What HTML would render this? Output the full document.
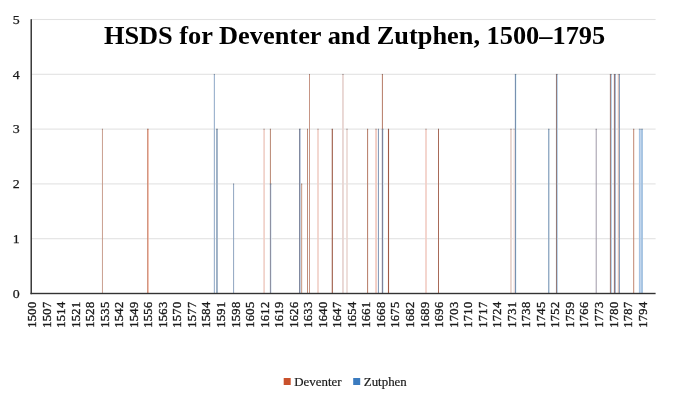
<!DOCTYPE html>
<html lang="en"><head><meta charset="utf-8"><title>HSDS for Deventer and Zutphen, 1500–1795</title>
<style>html,body{margin:0;padding:0;background:#fff;}svg{display:block;}text{font-family:"Liberation Serif","DejaVu Serif",serif;fill:#1a1a1a;}</style></head><body>
<svg width="676" height="403" viewBox="0 0 676 403">
<rect width="676" height="403" fill="#fff"/>
<g fill="#e2e2e2">
<rect x="31" y="238.15" width="624.6" height="1.1"/>
<rect x="31" y="183.35" width="624.6" height="1.1"/>
<rect x="31" y="128.55" width="624.6" height="1.1"/>
<rect x="31" y="73.75" width="624.6" height="1.1"/>
<rect x="31" y="18.95" width="624.6" height="1.1"/>
</g>
<g>
<rect x="101.95" y="129.10" width="0.9" height="164.40" fill="#c49583"/>
<rect x="101.95" y="128.75" width="0.9" height="0.95" fill="#957a70"/>
<rect x="147.10" y="129.10" width="0.8" height="164.40" fill="#c07a60"/>
<rect x="147.10" y="128.75" width="0.8" height="0.95" fill="#936a5c"/>
<rect x="147.90" y="129.10" width="0.8" height="164.40" fill="#f0a890"/>
<rect x="147.90" y="128.75" width="0.8" height="0.95" fill="#ae8578"/>
<rect x="213.80" y="74.30" width="1.2" height="219.20" fill="#9fb5cf"/>
<rect x="213.80" y="73.95" width="1.2" height="0.95" fill="#7f8c9d"/>
<rect x="216.00" y="129.10" width="1.9" height="164.40" fill="#9db0c5"/>
<rect x="216.00" y="128.75" width="1.9" height="0.95" fill="#7e8997"/>
<rect x="233.10" y="183.90" width="1.0" height="109.60" fill="#8fa5c0"/>
<rect x="233.10" y="183.55" width="1.0" height="0.95" fill="#768394"/>
<rect x="263.30" y="129.10" width="1.6" height="164.40" fill="#f0cfc6"/>
<rect x="263.30" y="128.75" width="1.6" height="0.95" fill="#ae9b97"/>
<rect x="269.90" y="129.10" width="1.0" height="54.80" fill="#b88570"/>
<rect x="269.90" y="128.75" width="1.0" height="0.95" fill="#8e7065"/>
<rect x="269.90" y="183.90" width="1.0" height="109.60" fill="#777a90"/>
<rect x="269.90" y="183.55" width="1.0" height="0.95" fill="#686a78"/>
<rect x="270.90" y="183.90" width="0.8" height="109.60" fill="#dfe9f2"/>
<rect x="270.90" y="183.55" width="0.8" height="0.95" fill="#a5aab1"/>
<rect x="299.15" y="129.10" width="1.1" height="164.40" fill="#6b7590"/>
<rect x="299.15" y="128.75" width="1.1" height="0.95" fill="#616778"/>
<rect x="300.10" y="129.10" width="0.6" height="164.40" fill="#b5c6dd"/>
<rect x="300.10" y="128.75" width="0.6" height="0.95" fill="#8c96a5"/>
<rect x="301.25" y="183.90" width="0.9" height="109.60" fill="#c08a70"/>
<rect x="301.25" y="183.55" width="0.9" height="0.95" fill="#937365"/>
<rect x="307.10" y="129.10" width="0.9" height="164.40" fill="#b8826c"/>
<rect x="307.10" y="128.75" width="0.9" height="0.95" fill="#8e6f63"/>
<rect x="309.00" y="74.30" width="0.9" height="219.20" fill="#c08a78"/>
<rect x="309.00" y="73.95" width="0.9" height="0.95" fill="#93736a"/>
<rect x="317.20" y="129.10" width="1.6" height="164.40" fill="#f0cfc6"/>
<rect x="317.20" y="128.75" width="1.6" height="0.95" fill="#ae9b97"/>
<rect x="331.75" y="129.10" width="1.1" height="164.40" fill="#9c5a44"/>
<rect x="331.75" y="128.75" width="1.1" height="0.95" fill="#7e574c"/>
<rect x="342.05" y="74.30" width="1.8" height="219.20" fill="#e8d5d2"/>
<rect x="342.05" y="73.95" width="1.8" height="0.95" fill="#aa9f9e"/>
<rect x="346.15" y="129.10" width="1.7" height="164.40" fill="#ecdad5"/>
<rect x="346.15" y="128.75" width="1.7" height="0.95" fill="#aca2a0"/>
<rect x="367.10" y="129.10" width="1.0" height="164.40" fill="#b57a65"/>
<rect x="367.10" y="128.75" width="1.0" height="0.95" fill="#8c6a5f"/>
<rect x="375.20" y="129.10" width="1.7" height="164.40" fill="#f2c9bf"/>
<rect x="375.20" y="128.75" width="1.7" height="0.95" fill="#b09893"/>
<rect x="377.90" y="129.10" width="1.0" height="164.40" fill="#7d95b5"/>
<rect x="377.90" y="128.75" width="1.0" height="0.95" fill="#6c7a8d"/>
<rect x="381.90" y="74.30" width="1.0" height="54.80" fill="#b57a65"/>
<rect x="381.90" y="73.95" width="1.0" height="0.95" fill="#8c6a5f"/>
<rect x="381.85" y="129.10" width="1.1" height="164.40" fill="#6a6882"/>
<rect x="381.85" y="128.75" width="1.1" height="0.95" fill="#616070"/>
<rect x="382.85" y="129.10" width="1.0" height="164.40" fill="#d8ecf5"/>
<rect x="382.85" y="128.75" width="1.0" height="0.95" fill="#a0acb3"/>
<rect x="387.95" y="129.10" width="1.1" height="164.40" fill="#a05a45"/>
<rect x="387.95" y="128.75" width="1.1" height="0.95" fill="#80574c"/>
<rect x="425.20" y="129.10" width="1.6" height="164.40" fill="#f2cdc4"/>
<rect x="425.20" y="128.75" width="1.6" height="0.95" fill="#b09a96"/>
<rect x="438.00" y="129.10" width="1.0" height="164.40" fill="#a86a58"/>
<rect x="438.00" y="128.75" width="1.0" height="0.95" fill="#856158"/>
<rect x="510.00" y="129.10" width="1.9" height="164.40" fill="#e8d6d0"/>
<rect x="510.00" y="128.75" width="1.9" height="0.95" fill="#aa9f9d"/>
<rect x="513.45" y="129.10" width="1.3" height="164.40" fill="#fbe6e0"/>
<rect x="513.45" y="128.75" width="1.3" height="0.95" fill="#b5a9a6"/>
<rect x="514.88" y="74.30" width="1.15" height="219.20" fill="#6c86a8"/>
<rect x="514.88" y="73.95" width="1.15" height="0.95" fill="#627186"/>
<rect x="515.90" y="74.30" width="0.5" height="219.20" fill="#d5f0f8"/>
<rect x="515.90" y="73.95" width="0.5" height="0.95" fill="#9faeb4"/>
<rect x="548.10" y="129.10" width="1.3" height="164.40" fill="#8aa5c0"/>
<rect x="548.10" y="128.75" width="1.3" height="0.95" fill="#738394"/>
<rect x="555.95" y="74.30" width="1.1" height="219.20" fill="#917573"/>
<rect x="555.95" y="73.95" width="1.1" height="0.95" fill="#776767"/>
<rect x="556.95" y="74.30" width="0.9" height="219.20" fill="#b5cfe8"/>
<rect x="556.95" y="73.95" width="0.9" height="0.95" fill="#8c9bab"/>
<rect x="595.70" y="129.10" width="1.0" height="164.40" fill="#a09aa8"/>
<rect x="595.70" y="128.75" width="1.0" height="0.95" fill="#807d86"/>
<rect x="609.90" y="74.30" width="1.0" height="219.20" fill="#9a6a60"/>
<rect x="609.90" y="73.95" width="1.0" height="0.95" fill="#7d615c"/>
<rect x="610.90" y="74.30" width="1.0" height="219.20" fill="#b0cfea"/>
<rect x="610.90" y="73.95" width="1.0" height="0.95" fill="#899bac"/>
<rect x="613.90" y="74.30" width="1.0" height="219.20" fill="#8a6060"/>
<rect x="613.90" y="73.95" width="1.0" height="0.95" fill="#735b5c"/>
<rect x="614.85" y="74.30" width="0.9" height="219.20" fill="#8aa8c8"/>
<rect x="614.85" y="73.95" width="0.9" height="0.95" fill="#738598"/>
<rect x="617.80" y="74.30" width="1.0" height="219.20" fill="#e0b8a8"/>
<rect x="617.80" y="73.95" width="1.0" height="0.95" fill="#a58e86"/>
<rect x="618.90" y="74.30" width="1.0" height="219.20" fill="#7a95b5"/>
<rect x="618.90" y="73.95" width="1.0" height="0.95" fill="#6a7a8d"/>
<rect x="633.20" y="129.10" width="1.0" height="164.40" fill="#c08570"/>
<rect x="633.20" y="128.75" width="1.0" height="0.95" fill="#937065"/>
<rect x="638.90" y="129.10" width="1.8" height="164.40" fill="#a8c5e5"/>
<rect x="638.90" y="128.75" width="1.8" height="0.95" fill="#8595a9"/>
<rect x="641.10" y="129.10" width="1.8" height="164.40" fill="#a0c0e0"/>
<rect x="641.10" y="128.75" width="1.8" height="0.95" fill="#8093a6"/>
</g>
<rect x="30.5" y="19.2" width="1.45" height="275" fill="#333"/>
<rect x="30.5" y="292.8" width="625.1" height="1.4" fill="#333"/>
<text x="103.9" y="44.2" textLength="501.3" lengthAdjust="spacingAndGlyphs" font-size="24.6" font-weight="bold" fill="#000" style="fill:#000">HSDS for Deventer and Zutphen, 1500–1795</text>
<g font-size="13.2" text-anchor="end" stroke="#1a1a1a" stroke-width="0.25">
<text x="19.8" y="297.80" textLength="6.95" lengthAdjust="spacingAndGlyphs">0</text>
<text x="19.8" y="243.00" textLength="6.95" lengthAdjust="spacingAndGlyphs">1</text>
<text x="19.8" y="188.20" textLength="6.95" lengthAdjust="spacingAndGlyphs">2</text>
<text x="19.8" y="133.40" textLength="6.95" lengthAdjust="spacingAndGlyphs">3</text>
<text x="19.8" y="78.60" textLength="6.95" lengthAdjust="spacingAndGlyphs">4</text>
<text x="19.8" y="23.80" textLength="6.95" lengthAdjust="spacingAndGlyphs">5</text>
</g>
<g font-size="12.4" stroke="#1a1a1a" stroke-width="0.35">
<text transform="translate(36.04,327.7) rotate(-90)" textLength="25.8" lengthAdjust="spacing">1500</text>
<text transform="translate(50.58,327.7) rotate(-90)" textLength="25.8" lengthAdjust="spacing">1507</text>
<text transform="translate(65.11,327.7) rotate(-90)" textLength="25.8" lengthAdjust="spacing">1514</text>
<text transform="translate(79.65,327.7) rotate(-90)" textLength="25.8" lengthAdjust="spacing">1521</text>
<text transform="translate(94.19,327.7) rotate(-90)" textLength="25.8" lengthAdjust="spacing">1528</text>
<text transform="translate(108.73,327.7) rotate(-90)" textLength="25.8" lengthAdjust="spacing">1535</text>
<text transform="translate(123.26,327.7) rotate(-90)" textLength="25.8" lengthAdjust="spacing">1542</text>
<text transform="translate(137.80,327.7) rotate(-90)" textLength="25.8" lengthAdjust="spacing">1549</text>
<text transform="translate(152.34,327.7) rotate(-90)" textLength="25.8" lengthAdjust="spacing">1556</text>
<text transform="translate(166.88,327.7) rotate(-90)" textLength="25.8" lengthAdjust="spacing">1563</text>
<text transform="translate(181.41,327.7) rotate(-90)" textLength="25.8" lengthAdjust="spacing">1570</text>
<text transform="translate(195.95,327.7) rotate(-90)" textLength="25.8" lengthAdjust="spacing">1577</text>
<text transform="translate(210.49,327.7) rotate(-90)" textLength="25.8" lengthAdjust="spacing">1584</text>
<text transform="translate(225.03,327.7) rotate(-90)" textLength="25.8" lengthAdjust="spacing">1591</text>
<text transform="translate(239.56,327.7) rotate(-90)" textLength="25.8" lengthAdjust="spacing">1598</text>
<text transform="translate(254.10,327.7) rotate(-90)" textLength="25.8" lengthAdjust="spacing">1605</text>
<text transform="translate(268.64,327.7) rotate(-90)" textLength="25.8" lengthAdjust="spacing">1612</text>
<text transform="translate(283.18,327.7) rotate(-90)" textLength="25.8" lengthAdjust="spacing">1619</text>
<text transform="translate(297.72,327.7) rotate(-90)" textLength="25.8" lengthAdjust="spacing">1626</text>
<text transform="translate(312.25,327.7) rotate(-90)" textLength="25.8" lengthAdjust="spacing">1633</text>
<text transform="translate(326.79,327.7) rotate(-90)" textLength="25.8" lengthAdjust="spacing">1640</text>
<text transform="translate(341.33,327.7) rotate(-90)" textLength="25.8" lengthAdjust="spacing">1647</text>
<text transform="translate(355.87,327.7) rotate(-90)" textLength="25.8" lengthAdjust="spacing">1654</text>
<text transform="translate(370.40,327.7) rotate(-90)" textLength="25.8" lengthAdjust="spacing">1661</text>
<text transform="translate(384.94,327.7) rotate(-90)" textLength="25.8" lengthAdjust="spacing">1668</text>
<text transform="translate(399.48,327.7) rotate(-90)" textLength="25.8" lengthAdjust="spacing">1675</text>
<text transform="translate(414.02,327.7) rotate(-90)" textLength="25.8" lengthAdjust="spacing">1682</text>
<text transform="translate(428.55,327.7) rotate(-90)" textLength="25.8" lengthAdjust="spacing">1689</text>
<text transform="translate(443.09,327.7) rotate(-90)" textLength="25.8" lengthAdjust="spacing">1696</text>
<text transform="translate(457.63,327.7) rotate(-90)" textLength="25.8" lengthAdjust="spacing">1703</text>
<text transform="translate(472.17,327.7) rotate(-90)" textLength="25.8" lengthAdjust="spacing">1710</text>
<text transform="translate(486.70,327.7) rotate(-90)" textLength="25.8" lengthAdjust="spacing">1717</text>
<text transform="translate(501.24,327.7) rotate(-90)" textLength="25.8" lengthAdjust="spacing">1724</text>
<text transform="translate(515.78,327.7) rotate(-90)" textLength="25.8" lengthAdjust="spacing">1731</text>
<text transform="translate(530.32,327.7) rotate(-90)" textLength="25.8" lengthAdjust="spacing">1738</text>
<text transform="translate(544.85,327.7) rotate(-90)" textLength="25.8" lengthAdjust="spacing">1745</text>
<text transform="translate(559.39,327.7) rotate(-90)" textLength="25.8" lengthAdjust="spacing">1752</text>
<text transform="translate(573.93,327.7) rotate(-90)" textLength="25.8" lengthAdjust="spacing">1759</text>
<text transform="translate(588.47,327.7) rotate(-90)" textLength="25.8" lengthAdjust="spacing">1766</text>
<text transform="translate(603.00,327.7) rotate(-90)" textLength="25.8" lengthAdjust="spacing">1773</text>
<text transform="translate(617.54,327.7) rotate(-90)" textLength="25.8" lengthAdjust="spacing">1780</text>
<text transform="translate(632.08,327.7) rotate(-90)" textLength="25.8" lengthAdjust="spacing">1787</text>
<text transform="translate(646.62,327.7) rotate(-90)" textLength="25.8" lengthAdjust="spacing">1794</text>
</g>
<rect x="283.7" y="378" width="7" height="7" fill="#c9512c"/>
<text x="294.3" y="385.7" font-size="12.9" stroke="#1a1a1a" stroke-width="0.2">Deventer</text>
<rect x="353.2" y="378" width="7" height="7" fill="#3b7bbf"/>
<text x="363.8" y="385.7" font-size="12.9" stroke="#1a1a1a" stroke-width="0.2">Zutphen</text>
</svg></body></html>
